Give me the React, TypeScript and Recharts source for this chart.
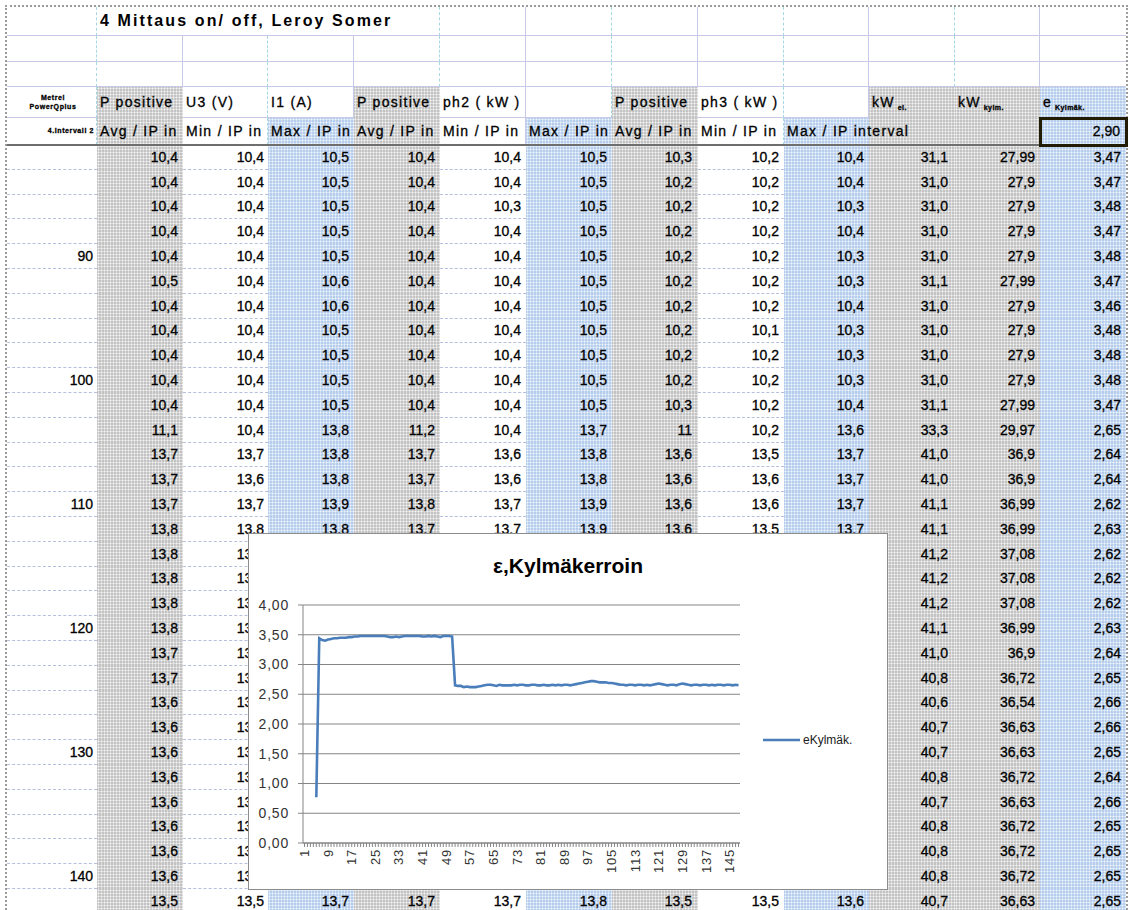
import React from "react";
import { LineChart, Line, XAxis, YAxis, CartesianGrid, Legend } from "recharts";

// ---------- chart data ----------
// category numbers on the x axis (measurement index)
const categories: number[] = Array.from({ length: 148 }, (_, i) => i + 1);

// eKylmäk. per category (first four are empty)
const eKylmak: (number | null)[] = [
  null, null, null, null,
  0.77, 3.44, 3.41, 3.4, 3.42, 3.43, 3.44, 3.44, 3.45, 3.45, 3.45, 3.46, 3.46, 3.47, 3.47, 3.48,
  3.48, 3.48, 3.48, 3.48, 3.48, 3.48, 3.48, 3.48,
  3.47, 3.46, 3.46, 3.47, 3.46, 3.47,
  3.48, 3.48, 3.48, 3.48, 3.48, 3.48,
  3.47, 3.47, 3.48, 3.47, 3.48, 3.47, 3.46, 3.48, 3.48, 3.48, 3.47,
  2.65, 2.64, 2.64, 2.62, 2.63, 2.62, 2.62, 2.62, 2.63, 2.64, 2.65, 2.66, 2.66, 2.65, 2.64, 2.66, 2.65, 2.65, 2.65, 2.65,
  2.66, 2.65, 2.66, 2.66, 2.65, 2.65, 2.66, 2.66, 2.65, 2.65, 2.66, 2.65, 2.65, 2.66, 2.65, 2.66, 2.65, 2.66, 2.66, 2.65, 2.66, 2.67,
  2.68, 2.69, 2.7, 2.71, 2.72, 2.72, 2.71, 2.7, 2.7, 2.7, 2.69, 2.69, 2.68, 2.67, 2.66,
  2.66, 2.65, 2.66, 2.66, 2.65, 2.66, 2.66, 2.65, 2.66, 2.65, 2.66,
  2.67, 2.68, 2.67,
  2.66, 2.65, 2.66, 2.66, 2.65,
  2.67, 2.68, 2.67,
  2.66, 2.65, 2.66, 2.66, 2.65, 2.66, 2.66, 2.65, 2.66, 2.65, 2.66, 2.66, 2.65, 2.66, 2.66, 2.65, 2.66, 2.65,
];

const yTicks = [0, 0.5, 1, 1.5, 2, 2.5, 3, 3.5, 4];

const chartData = categories.map((n, i) => ({ n, e: eKylmak[i] }));

// ---------- sheet data ----------
const title = "4 Mittaus on/ off, Leroy Somer";

const rowLabels = [
  "", "", "", "", "90", "", "", "", "", "100", "", "", "", "", "110", "",
  "", "", "", "120", "", "", "", "", "130", "", "", "", "", "140", "",
];

const ph1Avg = [
  "10,4", "10,4", "10,4", "10,4", "10,4", "10,5", "10,4", "10,4", "10,4", "10,4", "10,4",
  "11,1", "13,7", "13,7", "13,7", "13,8", "13,8", "13,8", "13,8", "13,8", "13,7", "13,7",
  "13,6", "13,6", "13,6", "13,6", "13,6", "13,6", "13,6", "13,6", "13,5",
];
const ph1Min = [
  "10,4", "10,4", "10,4", "10,4", "10,4", "10,4", "10,4", "10,4", "10,4", "10,4", "10,4",
  "10,4", "13,7", "13,6", "13,7", "13,8", "13,7", "13,7", "13,7", "13,7", "13,7", "13,7",
  "13,6", "13,6", "13,6", "13,6", "13,6", "13,6", "13,6", "13,6", "13,5",
];
const ph1Max = [
  "10,5", "10,5", "10,5", "10,5", "10,5", "10,6", "10,6", "10,5", "10,5", "10,5", "10,5",
  "13,8", "13,8", "13,8", "13,9", "13,8", "", "", "", "", "", "",
  "", "", "", "", "", "", "", "", "13,7",
];
const ph2Avg = [
  "10,4", "10,4", "10,4", "10,4", "10,4", "10,4", "10,4", "10,4", "10,4", "10,4", "10,4",
  "11,2", "13,7", "13,7", "13,8", "13,7", "", "", "", "", "", "",
  "", "", "", "", "", "", "", "", "13,7",
];
const ph2Min = [
  "10,4", "10,4", "10,3", "10,4", "10,4", "10,4", "10,4", "10,4", "10,4", "10,4", "10,4",
  "10,4", "13,6", "13,6", "13,7", "13,7", "", "", "", "", "", "",
  "", "", "", "", "", "", "", "", "13,7",
];
const ph2Max = [
  "10,5", "10,5", "10,5", "10,5", "10,5", "10,5", "10,5", "10,5", "10,5", "10,5", "10,5",
  "13,7", "13,8", "13,8", "13,9", "13,9", "", "", "", "", "", "",
  "", "", "", "", "", "", "", "", "13,8",
];
const ph3Avg = [
  "10,3", "10,2", "10,2", "10,2", "10,2", "10,2", "10,2", "10,2", "10,2", "10,2", "10,3",
  "11", "13,6", "13,6", "13,6", "13,6", "", "", "", "", "", "",
  "", "", "", "", "", "", "", "", "13,5",
];
const ph3Min = [
  "10,2", "10,2", "10,2", "10,2", "10,2", "10,2", "10,2", "10,1", "10,2", "10,2", "10,2",
  "10,2", "13,5", "13,6", "13,6", "13,5", "", "", "", "", "", "",
  "", "", "", "", "", "", "", "", "13,5",
];
const ph3Max = [
  "10,4", "10,4", "10,3", "10,4", "10,3", "10,3", "10,4", "10,3", "10,3", "10,3", "10,4",
  "13,6", "13,7", "13,7", "13,7", "13,7", "", "", "", "", "", "",
  "", "", "", "", "", "", "", "", "13,6",
];
const kwEl = [
  "31,1", "31,0", "31,0", "31,0", "31,0", "31,1", "31,0", "31,0", "31,0", "31,0", "31,1",
  "33,3", "41,0", "41,0", "41,1", "41,1", "41,2", "41,2", "41,2", "41,1", "41,0", "40,8",
  "40,6", "40,7", "40,7", "40,8", "40,7", "40,8", "40,8", "40,8", "40,7",
];
const kwCold = [
  "27,99", "27,9", "27,9", "27,9", "27,9", "27,99", "27,9", "27,9", "27,9", "27,9", "27,99",
  "29,97", "36,9", "36,9", "36,99", "36,99", "37,08", "37,08", "37,08", "36,99", "36,9", "36,72",
  "36,54", "36,63", "36,63", "36,72", "36,63", "36,72", "36,72", "36,72", "36,63",
];
const eCol = [
  "3,47", "3,47", "3,48", "3,47", "3,48", "3,47", "3,46", "3,48", "3,48", "3,48", "3,47",
  "2,65", "2,64", "2,64", "2,62", "2,63", "2,62", "2,62", "2,62", "2,63", "2,64", "2,65",
  "2,66", "2,66", "2,65", "2,64", "2,66", "2,65", "2,65", "2,65", "2,65",
];

const headTop = ["", "P positive", "U3 (V)", "I1 (A)", "P positive", "ph2 ( kW )", "", "P positive", "ph3 ( kW )", "", "kW", "kW", "e"];
const headSub = ["", "", "", "", "", "", "", "", "", "", "el.", "kylm.", "Kylmäk."];
const headBottom = [
  "", "Avg / IP in", "Min / IP in", "Max / IP in", "Avg / IP in", "Min / IP in",
  "Max / IP in", "Avg / IP in", "Min / IP in", "Max / IP interval", "", "", "2,90",
];

const columns = [rowLabels, ph1Avg, ph1Min, ph1Max, ph2Avg, ph2Min, ph2Max, ph3Avg, ph3Min, ph3Max, kwEl, kwCold, eCol];

// ---------- layout ----------
const FONT = '"Liberation Sans", Arial, Helvetica, sans-serif';
const COLS = [7, 97, 183, 268, 354, 440, 526, 612, 698, 784, 869, 955, 1040, 1126];
const ROW_TOP = 145;
const ROW_H = 24.8;
const INK = "0.3px #000";

const DATA_FILL = ["w", "g", "w", "b", "g", "w", "b", "g", "w", "b", "g", "g", "b"];
const HEAD4_FILL = ["w", "g", "w", "w", "g", "w", "w", "g", "w", "w", "g", "g", "b"];
const HEAD5_FILL = ["w", "g", "w", "b", "g", "w", "b", "g", "w", "b", "g", "g", "b"];
const PAD = [4, 5, 4, 5, 5, 5, 5, 6, 5, 5, 7, 5, 5];

const GRAY: React.CSSProperties = {
  backgroundColor: "#c3c3c3",
  backgroundImage: "radial-gradient(circle at 1.5px 1.5px, #f3f3f3 0.85px, transparent 1.15px)",
  backgroundSize: "3px 3px",
};
const BLUE: React.CSSProperties = {
  backgroundColor: "#b7cdec",
  backgroundImage: "radial-gradient(circle at 1.5px 1.5px, #eef4fc 0.85px, transparent 1.15px)",
  backgroundSize: "3px 3px",
};
const fill = (f: string): React.CSSProperties => (f === "g" ? GRAY : f === "b" ? BLUE : { background: "#fff" });
const vLine = (b: number) => (b % 2 === 1 ? "1px dashed #a6d8e4" : "1px solid #c8c8ea");

function Triangle({ right, top }: { right: number; top: number }) {
  return (
    <div
      style={{
        position: "absolute",
        left: right - 7,
        top,
        width: 0,
        height: 0,
        borderTop: "7px solid #ff0000",
        borderLeft: "7px solid transparent",
      }}
    />
  );
}

function Sheet() {
  const cells: React.ReactNode[] = [];

  // rows 1-3 (title + two empty rows)
  const headRows = [7, 36, 62, 87];
  for (let r = 0; r < 3; r++) {
    for (let c = 0; c < 13; c++) {
      if (r === 0 && c >= 2 && c <= 4) continue;
      const right = r === 0 && c === 1 ? COLS[5] : COLS[c + 1];
      const b = r === 0 && c === 1 ? 5 : c + 1;
      cells.push(
        <div
          key={`h${r}-${c}`}
          style={{
            position: "absolute",
            left: COLS[c],
            top: headRows[r],
            width: right - COLS[c],
            height: headRows[r + 1] - headRows[r],
            boxSizing: "border-box",
            borderRight: c === 12 ? "none" : vLine(b),
            borderBottom: "1px solid #c8c8ea",
            background: "#fff",
          }}
        >
          {r === 0 && c === 1 && (
            <div
              style={{
                position: "absolute",
                left: 3,
                top: 0,
                lineHeight: "27px",
                fontSize: 16,
                fontWeight: "bold",
                letterSpacing: 2.1,
                whiteSpace: "nowrap",
              }}
            >
              {title}
            </div>
          )}
        </div>
      );
    }
  }

  // header rows 4-5
  const hr = [87, 118, 145];
  for (let r = 0; r < 2; r++) {
    const fills = r === 0 ? HEAD4_FILL : HEAD5_FILL;
    for (let c = 0; c < 13; c++) {
      const white = fills[c] === "w";
      const text = r === 0 ? headTop[c] : headBottom[c];
      const overflow = r === 1 && c === 9;
      const isVal = c === 12 && r === 1;
      cells.push(
        <div
          key={`t${r}-${c}`}
          style={{
            position: "absolute",
            left: COLS[c],
            top: hr[r],
            width: COLS[c + 1] - COLS[c],
            height: hr[r + 1] - hr[r],
            boxSizing: "border-box",
            ...fill(fills[c]),
            borderRight: white && c < 12 ? vLine(c + 1) : undefined,
            borderBottom: white && r === 0 ? "1px solid #c8c8ea" : undefined,
            overflow: overflow ? "visible" : "hidden",
            zIndex: overflow ? 2 : 1,
            whiteSpace: "nowrap",
            fontSize: 14,
            letterSpacing: isVal ? 0 : 1.3,
            lineHeight: `${hr[r + 1] - hr[r] - 1}px`,
            paddingLeft: isVal ? 0 : 3,
            textAlign: isVal ? "right" : "left",
            paddingRight: isVal ? 6 : 0,
            WebkitTextStroke: INK,
          }}
        >
          {c === 0 && r === 0 && (
            <div style={{ fontSize: 7, fontWeight: "bold", lineHeight: "9px", letterSpacing: 0.6, textAlign: "center", paddingTop: 6 }}>
              Metrel
              <br />
              PowerQplus
            </div>
          )}
          {c === 0 && r === 1 && (
            <div style={{ fontSize: 7, fontWeight: "bold", letterSpacing: 0.6, textAlign: "right", paddingRight: 2 }}>4.Intervall 2</div>
          )}
          {text}
          {headSub[c] && r === 0 && (
            <span style={{ fontSize: 7, fontWeight: "bold", letterSpacing: 0.4, position: "relative", top: 3, marginLeft: 3 }}>
              {headSub[c]}
            </span>
          )}
        </div>
      );
    }
  }

  // data rows
  for (let r = 0; r < rowLabels.length; r++) {
    const top = Math.round(ROW_TOP + r * ROW_H);
    const bottom = Math.round(ROW_TOP + (r + 1) * ROW_H);
    for (let c = 0; c < 13; c++) {
      const white = DATA_FILL[c] === "w";
      cells.push(
        <div
          key={`d${r}-${c}`}
          style={{
            position: "absolute",
            left: COLS[c],
            top,
            width: COLS[c + 1] - COLS[c],
            height: bottom - top,
            boxSizing: "border-box",
            ...fill(DATA_FILL[c]),
            borderBottom: white ? "1px dashed #b6c0de" : undefined,
            textAlign: "right",
            paddingRight: PAD[c],
            fontSize: 14,
            lineHeight: `${bottom - top - 1}px`,
            whiteSpace: "nowrap",
            overflow: "hidden",
            WebkitTextStroke: INK,
          }}
        >
          {columns[c][r]}
        </div>
      );
    }
  }

  return (
    <>
      {cells}
      <Triangle right={97} top={87} />
      <Triangle right={955} top={87} />
      <Triangle right={1040} top={87} />
      <Triangle right={1126} top={87} />
      {/* thick line under the header */}
      <div style={{ position: "absolute", left: 7, top: 144, width: 1119, height: 2, background: "#6e6e6e", zIndex: 3 }} />
      {/* selected cell */}
      <div
        style={{
          position: "absolute",
          left: 1039,
          top: 117,
          width: 89,
          height: 30,
          boxSizing: "border-box",
          border: "3px solid #231c05",
          zIndex: 4,
        }}
      />
      {/* sheet frame */}
      <div
        style={{
          position: "absolute",
          left: 5,
          top: 5,
          width: 1123,
          height: 920,
          boxSizing: "border-box",
          border: "2px dotted #9b9b9b",
          zIndex: 3,
        }}
      />
    </>
  );
}

const fmtY = (v: number) => v.toFixed(2).replace(".", ",");

const XTick = (props: any) => {
  const { x, y, payload } = props;
  if ((payload.value - 1) % 8 !== 0) return <g />;
  return (
    <text
      x={x}
      y={y}
      transform={`rotate(-90 ${x} ${y})`}
      textAnchor="end"
      dominantBaseline="central"
      fontSize={13}
      letterSpacing={0.8}
      fill="#333"
      fontFamily={FONT}
    >
      {payload.value}
    </text>
  );
};

const renderLegend = (props: any) => {
  const items = props.payload || [];
  return (
    <div>
      {items.map((it: any) => (
        <div key={it.value} style={{ display: "flex", alignItems: "center", height: 16, fontFamily: FONT, fontSize: 12, color: "#202020" }}>
          <svg width={37} height={6}>
            <line x1={0} y1={3} x2={37} y2={3} stroke={it.color} strokeWidth={2.6} />
          </svg>
          <span style={{ marginLeft: 3 }}>{it.value}</span>
        </div>
      ))}
    </div>
  );
};

function ChartBox() {
  return (
    <div
      style={{
        position: "absolute",
        left: 248,
        top: 533,
        width: 640,
        height: 357,
        boxSizing: "border-box",
        border: "1px solid #8c8c8c",
        background: "#fff",
        zIndex: 6,
      }}
    >
      <div
        style={{
          position: "absolute",
          left: 0,
          top: 20,
          width: "100%",
          textAlign: "center",
          fontSize: 21,
          fontWeight: "bold",
          lineHeight: "24px",
          fontFamily: FONT,
          color: "#000",
        }}
      >
        ε,Kylmäkerroin
      </div>
      <div style={{ position: "absolute", left: 0, top: 0 }}>
        <LineChart width={638} height={355} data={chartData} margin={{ top: 71, right: 147, bottom: 0, left: 0 }}>
          <CartesianGrid vertical={false} stroke="#858585" />
          <XAxis
            dataKey="n"
            interval={0}
            tick={(p: any) => <XTick {...p} />}
            tickSize={4}
            tickMargin={2}
            height={46}
            padding={{ left: 1.5, right: 1.5 }}
            axisLine={{ stroke: "#858585" }}
            tickLine={{ stroke: "#858585" }}
          />
          <YAxis
            domain={[0, 4]}
            ticks={yTicks}
            width={54}
            tickSize={5}
            tickMargin={9}
            tickFormatter={fmtY}
            tick={{ fontSize: 14, fill: "#333", fontFamily: FONT, letterSpacing: 0.8 }}
            axisLine={{ stroke: "#858585" }}
            tickLine={{ stroke: "#858585" }}
          />
          <Legend
            layout="vertical"
            align="center"
            verticalAlign="middle"
            wrapperStyle={{ left: 514, top: 198, width: 120 }}
            content={renderLegend}
          />
          <Line
            type="linear"
            dataKey="e"
            name="eKylmäk."
            stroke="#4a7ebb"
            strokeWidth={2.6}
            dot={false}
            connectNulls={false}
            isAnimationActive={false}
          />
        </LineChart>
      </div>
    </div>
  );
}

export default function App() {
  return (
    <div
      style={{
        position: "absolute",
        left: 0,
        top: 0,
        width: 1134,
        height: 910,
        overflow: "hidden",
        background: "#fff",
        fontFamily: FONT,
        color: "#000",
      }}
    >
      <Sheet />
      <ChartBox />
    </div>
  );
}
